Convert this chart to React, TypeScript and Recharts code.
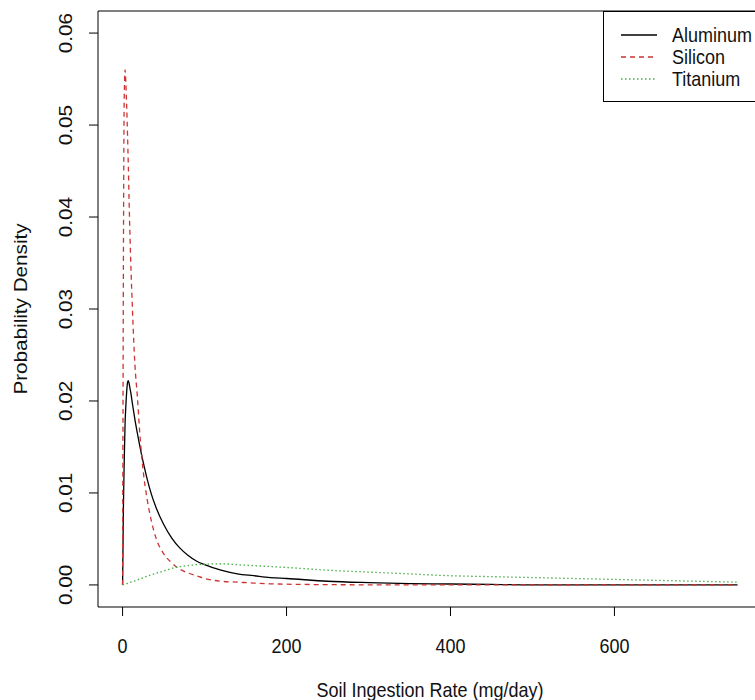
import { LineChart, Line, XAxis, YAxis, ReferenceArea, Legend } from 'recharts'

// soil ingestion rate (mg/day) grid
const rates = [
  0, 1, 2, 3, 4, 5, 6, 7, 8, 9, 10, 12, 15, 18, 21, 25, 30, 35, 40, 50,
  60, 70, 80, 90, 100, 120, 140, 160, 180, 200, 250, 300, 350, 400, 450,
  500, 550, 600, 650, 700, 750,
]

const aluminum = [
  0, 0.0085, 0.0135, 0.0175, 0.0195, 0.021, 0.022, 0.0222, 0.0219, 0.0214,
  0.0209, 0.0197, 0.018, 0.0165, 0.0151, 0.0134, 0.0115, 0.0099, 0.0086, 0.0066,
  0.0051, 0.004, 0.0032, 0.0026, 0.0022, 0.0016, 0.0012, 0.001, 0.0008, 0.0007,
  0.0004, 0.00025, 0.00015, 0.0001, 0.00005, 0, 0, 0, 0, 0, 0,
]

const silicon = [
  0, 0.035, 0.053, 0.056, 0.0545, 0.052, 0.049, 0.0455, 0.0415, 0.038,
  0.035, 0.03, 0.024, 0.0205, 0.0165, 0.0125, 0.0093, 0.007, 0.0053, 0.0034,
  0.0024, 0.0017, 0.0013, 0.001, 0.0007, 0.0004, 0.0003, 0.0002, 0.00012, 0.00008,
  0.00003, 0.00001, 0, 0, 0, 0, 0, 0, 0, 0, 0,
]

const titanium = [
  0, 0.00002, 0.00005, 0.00008, 0.0001, 0.00013, 0.00016, 0.0002, 0.00023, 0.00026,
  0.0003, 0.00036, 0.00045, 0.00055, 0.00065, 0.00078, 0.00095, 0.0011, 0.00125, 0.0015,
  0.0018, 0.002, 0.0021, 0.0022, 0.00225, 0.0023, 0.0022, 0.0021, 0.002, 0.0019,
  0.0016, 0.0014, 0.0012, 0.001, 0.0009, 0.0008, 0.0007, 0.0006, 0.0005, 0.0004, 0.0003,
]

const xTicks = [0, 200, 400, 600]
const yTicks = [0, 0.01, 0.02, 0.03, 0.04, 0.05, 0.06]

const series = [
  { key: 'aluminum', name: 'Aluminum', color: '#000000', dash: undefined },
  { key: 'silicon', name: 'Silicon', color: '#cc3333', dash: '5 4' },
  { key: 'titanium', name: 'Titanium', color: '#44b044', dash: '1.5 2.5' },
]

const data = rates.map((x, i) => ({
  x,
  aluminum: aluminum[i],
  silicon: silicon[i],
  titanium: titanium[i],
}))

const FONT = '"Liberation Sans", Arial, sans-serif'
const STRETCH = 1.15
const INK = '#111'

function XTick({ x, payload }: any) {
  return (
    <text transform={`translate(${x},653) scale(1,${STRETCH})`} textAnchor="middle"
      fontFamily={FONT} fontSize={18} fill={INK}>
      {payload.value}
    </text>
  )
}

function YTick({ y, payload }: any) {
  return (
    <text transform={`translate(72,${y}) rotate(-90) scale(${STRETCH},1)`} textAnchor="middle"
      fontFamily={FONT} fontSize={18} fill={INK}>
      {Number(payload.value).toFixed(2)}
    </text>
  )
}

function LegendBox() {
  return (
    <svg width={170} height={92} style={{ display: 'block' }}>
      <rect x={0.5} y={0.5} width={200} height={90} fill="#fff" stroke="#000" />
      {series.map((s, i) => {
        const cy = 24 + i * 22
        return (
          <g key={s.key}>
            <line x1={18} x2={54} y1={cy} y2={cy} stroke={s.color} strokeWidth={1.3}
              strokeDasharray={s.dash} />
            <text transform={`translate(69,${cy + 7}) scale(1,${STRETCH})`}
              fontFamily={FONT} fontSize={18} fill={INK}>
              {s.name}
            </text>
          </g>
        )
      })}
    </svg>
  )
}

export default function App() {
  return (
    <div style={{ position: 'absolute', left: 0, top: 0, width: 755, height: 700, overflow: 'hidden', background: '#fff' }}>
      <LineChart width={770} height={700} data={data} margin={{ top: 11, right: 8, left: 0, bottom: 0 }}>
        <XAxis dataKey="x" type="number" domain={[-30, 780]} ticks={xTicks} allowDataOverflow
          height={93} axisLine={false} tickSize={9} tickLine={{ stroke: '#000' }} tick={<XTick />}
          label={{
            value: 'Soil Ingestion Rate (mg/day)',
            content: () => (
              <text transform={`translate(430,697) scale(1,${STRETCH})`} textAnchor="middle"
                fontFamily={FONT} fontSize={18} fill={INK}>
                Soil Ingestion Rate (mg/day)
              </text>
            ),
          }} />
        <YAxis type="number" domain={[-0.0024, 0.0624]} ticks={yTicks} allowDataOverflow
          width={98} axisLine={false} tickSize={9} tickLine={{ stroke: '#000' }} tick={<YTick />}
          label={{
            value: 'Probability Density',
            content: () => (
              <text transform={`translate(27,309) rotate(-90) scale(${STRETCH},1)`} textAnchor="middle"
                fontFamily={FONT} fontSize={18} fill={INK}>
                Probability Density
              </text>
            ),
          }} />
        <ReferenceArea x1={-30} x2={780} y1={-0.0024} y2={0.0624} fill="none" stroke="#000"
          strokeWidth={1} ifOverflow="extendDomain" />
        {series.map(s => (
          <Line key={s.key} dataKey={s.key} name={s.name} type="monotone" stroke={s.color}
            strokeWidth={1.3} strokeDasharray={s.dash} dot={false} isAnimationActive={false} />
        ))}
        <Legend layout="horizontal" verticalAlign="middle" align="center" content={() => <LegendBox />}
          wrapperStyle={{ position: 'absolute', left: 603, top: 11, width: 170, height: 92 }} />
      </LineChart>
    </div>
  )
}
